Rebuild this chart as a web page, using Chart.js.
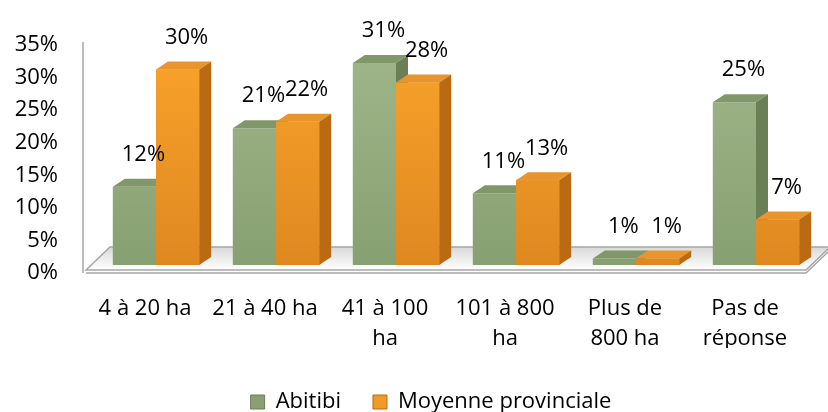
<!DOCTYPE html>
<html>
<head>
<meta charset="utf-8">
<script src="https://cdn.jsdelivr.net/npm/chart.js@4.4.1/dist/chart.umd.min.js"></script>
<style>
  html, body { margin: 0; padding: 0; background: #fff; }
  #wrap { width: 828px; height: 412px; }
</style>
</head>
<body>
<div id="wrap"><canvas id="barChart" width="828" height="412"></canvas></div>
<script>
const categories = [["4 à 20 ha"], ["21 à 40 ha"], ["41 à 100", "ha"], ["101 à 800", "ha"], ["Plus de", "800 ha"], ["Pas de", "réponse"]]
const abitibi = [12, 21, 31, 11, 1, 25]
const moyenne = [30, 22, 28, 13, 1, 7]
const seriesNames = ["Abitibi", "Moyenne provinciale"]
const yMax = 35
const yStep = 5

const FONT = "'Open Sans'"
const FSIZE = 22
const green = { front: ["#a0b78b", "#87a071"], side: "#6b7f56", top: "#7f9769", legend: "#8aa074" }
const orange = { front: ["#faa42c", "#df8820"], side: "#b96a12", top: "#e8952d", legend: "#f09a28" }
const dx = 12, dy = 8

function frontFill(pal) {
    return (c) => {
        const area = c.chart.chartArea
        if (!area) return pal.front[0]
        const g = c.chart.ctx.createLinearGradient(0, area.top, 0, area.bottom)
        g.addColorStop(0, pal.front[0])
        g.addColorStop(1, pal.front[1])
        return g
    }
}

function drawFaces(ctx, bar, pal) {
    const { x, y, base, width } = bar.getProps(["x", "y", "base", "width"], true)
    const l = x - width / 2, r = x + width / 2
    ctx.fillStyle = pal.top
    ctx.beginPath()
    ctx.moveTo(l, y); ctx.lineTo(l + dx, y - dy); ctx.lineTo(r + dx, y - dy); ctx.lineTo(r, y)
    ctx.closePath(); ctx.fill()
    ctx.fillStyle = pal.side
    ctx.beginPath()
    ctx.moveTo(r, y); ctx.lineTo(r + dx, y - dy); ctx.lineTo(r + dx, base - dy); ctx.lineTo(r, base)
    ctx.closePath(); ctx.fill()
}

// floor + left edge, then 3d faces and value labels
const bar3d = {
    id: "bar3d",
    afterLayout(chart) {
        // legend sits lower and a bit to the right in the original
        chart.legend.top += 11
        chart.legend.bottom += 11
        chart.legend.left += 23
        chart.legend.right += 23
    },
    beforeDatasetsDraw(chart) {
        const ctx = chart.ctx
        const area = chart.chartArea
        const y0 = chart.scales.y.getPixelForValue(0)
        ctx.save()
        const g = ctx.createLinearGradient(0, y0 - 18, 0, y0 + 5)
        g.addColorStop(0, "#d9d9d9")
        g.addColorStop(1, "#ffffff")
        ctx.fillStyle = g
        ctx.strokeStyle = "#a6a6a6"
        ctx.lineWidth = 1.5
        ctx.beginPath()
        ctx.moveTo(area.left - 10, y0 + 5)
        ctx.lineTo(area.left + 14, y0 - 18)
        ctx.lineTo(area.right + 14, y0 - 18)
        ctx.lineTo(area.right - 10, y0 + 5)
        ctx.closePath()
        ctx.fill(); ctx.stroke()
        ctx.beginPath()
        ctx.moveTo(area.left - 10, y0 + 8)
        ctx.lineTo(area.right - 10, y0 + 8)
        ctx.lineTo(area.right + 14, y0 - 15)
        ctx.stroke()
        ctx.beginPath()
        ctx.moveTo(area.left - 13, area.top + 5)
        ctx.lineTo(area.left - 13, y0 + 8)
        ctx.stroke()
        ctx.restore()
    },
    afterDatasetsDraw(chart) {
        const ctx = chart.ctx
        const gBars = chart.getDatasetMeta(0).data
        const oBars = chart.getDatasetMeta(1).data
        ctx.save()
        gBars.forEach((gb, i) => {
            drawFaces(ctx, gb, green)
            oBars[i].draw(ctx)
            drawFaces(ctx, oBars[i], orange)
        })
        ctx.fillStyle = "#000"
        ctx.font = FSIZE + "px " + FONT
        ctx.textAlign = "center"
        ctx.textBaseline = "middle"
        ;[gBars, oBars].forEach((bars, d) => {
            const vals = d === 0 ? abitibi : moyenne
            bars.forEach((b, i) => {
                ctx.fillText(vals[i] + "%", b.x + 9, b.y - 32)
            })
        })
        ctx.restore()
    }
}

let ctx = document.getElementById("barChart").getContext("2d")
new Chart(ctx, {
    type: "bar",
    data: {
        labels: categories,
        datasets: [
            {
                label: seriesNames[0],
                data: abitibi,
                backgroundColor: frontFill(green),
            },
            {
                label: seriesNames[1],
                data: moyenne,
                backgroundColor: frontFill(orange),
            },
        ],
    },
    plugins: [bar3d],
    options: {
        responsive: false,
        animation: false,
        devicePixelRatio: 1,
        layout: { padding: { top: 37, right: 12, left: 0, bottom: 0 } },
        datasets: {
            bar: { barPercentage: 1, categoryPercentage: 0.72, borderWidth: 0 },
        },
        scales: {
            x: {
                grid: { display: false, drawTicks: false },
                border: { display: false },
                ticks: { color: "#000", font: { family: FONT, size: FSIZE, lineHeight: 1.35 }, padding: 29, labelOffset: -11, maxRotation: 0, autoSkip: false },
                afterFit(s) {
                    s.height = 412 - 265 - s.chart.legend.height
                    s.paddingLeft = 0
                    s.paddingRight = 0
                },
            },
            y: {
                min: 0,
                max: yMax,
                grid: { display: false, drawTicks: false },
                border: { display: false },
                ticks: {
                    stepSize: yStep,
                    color: "#000",
                    font: { family: FONT, size: FSIZE },
                    padding: 38,
                    labelOffset: 8,
                    callback: (v) => v + "%",
                },
                afterFit(s) {
                    s.width = 96
                    s.paddingTop = 0
                    s.paddingBottom = 0
                },
            },
        },
        plugins: {
            tooltip: { enabled: false },
            legend: {
                position: "bottom",
                labels: {
                    color: "#000",
                    font: { family: FONT, size: FSIZE },
                    boxWidth: 14,
                    boxHeight: 14,
                    padding: 32,
                    generateLabels(chart) {
                        const pals = [green, orange]
                        return Chart.defaults.plugins.legend.labels.generateLabels(chart).map((l, i) => ({
                            ...l,
                            fillStyle: pals[i].legend,
                            strokeStyle: pals[i].side,
                            lineWidth: 1,
                        }))
                    },
                },
            },
        },
    },
});
</script>
</body>
</html>
